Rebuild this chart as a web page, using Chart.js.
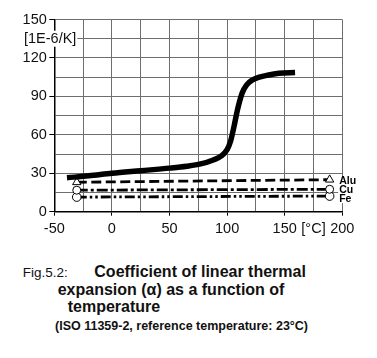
<!DOCTYPE html>
<html>
<head>
<meta charset="utf-8">
<script src="https://cdn.jsdelivr.net/npm/chart.js@4/dist/chart.umd.min.js"></script>
<style>
  html, body { margin:0; padding:0; background:#fff; }
  body { width:377px; height:358px; position:relative; overflow:hidden; font-family:'Liberation Sans', Arial, sans-serif; color:#111; }
  #wrap { position:absolute; left:0; top:0; width:377px; height:240px; }
  .cap { position:absolute; white-space:nowrap; line-height:1; }
  .b { font-weight:bold; font-size:16px; }
</style>
</head>
<body>
<div id="wrap"><canvas id="c" width="377" height="240"></canvas></div>
<div class="cap" style="left:22.7px;top:265.6px;font-size:13.5px;">Fig.5.2:</div>
<div class="cap b" style="left:94.3px;top:263.5px;">Coefficient of linear thermal</div>
<div class="cap b" style="left:57.7px;top:281.5px;">expansion (α) as a function of</div>
<div class="cap b" style="left:67.7px;top:299.2px;">temperature</div>
<div class="cap" style="left:55px;top:320.1px;font-size:12.5px;font-weight:bold;">(ISO 11359-2, reference temperature: 23°C)</div>
<script>
// ---- data ----
const mainX = [-39, -20, 0, 25, 50, 65, 77, 88, 95, 100, 103, 106, 109, 113, 117, 122, 128, 135, 145, 159];
const mainY = [26.5, 28, 30, 32, 34, 35.5, 37.3, 40.4, 43.5, 48.5, 55, 66.5, 79.5, 92.5, 99, 102.8, 105, 106.5, 108, 108.6];
const metalNames = ['Alu', 'Cu', 'Fe'];
const metalX = [-30.5, 189];
const aluY = [23, 25];
const cuY = [16.8, 17.5];
const feY = [11.4, 12.2];
const yTickValues = [0, 30, 60, 90, 120, 150];
const yTickLabels = ['0', '30', '60', '90', '120', '150'];
const yUnitLabel = '[1E-6/K]';
const yUnitValue = 135;
const xTickValues = [-50, 0, 50, 100, 150, 175, 200];
const xTickLabels = ['-50', '0', '50', '100', '150', '[°C]', '200'];

const FONT = "'Liberation Sans', Arial, sans-serif";
Chart.defaults.font.family = FONT;
Chart.defaults.font.size = 14.5;
Chart.defaults.color = '#111';

function pts(xs, ys) { return xs.map((x, i) => ({x: x, y: ys[i]})); }

const metalStyles = [
  {dash: [10, 4.5], pointStyle: 'triangle', radius: 4.8},
  {dash: [11, 3, 3, 3], pointStyle: 'circle', radius: 4},
  {dash: [10, 3, 2.5, 3, 2.5, 3], pointStyle: 'circle', radius: 4.3}
];
const metalSeries = [aluY, cuY, feY];

const datasets = [{
  data: pts(mainX, mainY),
  borderColor: '#000',
  borderWidth: 5.5,
  pointRadius: 0,
  cubicInterpolationMode: 'monotone',
  borderCapStyle: 'butt',
  fill: false
}];
metalSeries.forEach((ys, i) => {
  datasets.push({
    data: pts(metalX, ys),
    borderColor: '#000',
    borderWidth: 2.8,
    borderDash: metalStyles[i].dash,
    pointStyle: metalStyles[i].pointStyle,
    pointRadius: metalStyles[i].radius,
    pointBackgroundColor: '#fff',
    pointBorderColor: '#000',
    pointBorderWidth: 1,
    fill: false
  });
});

const labelsPlugin = {
  id: 'labelsPlugin',
  afterDraw(chart) {
    const ctx = chart.ctx;
    const xs = chart.scales.x, ys = chart.scales.y;
    ctx.save();
    ctx.font = '14.5px ' + FONT;
    ctx.textBaseline = 'middle';
    ctx.textAlign = 'left';
    const uy = ys.getPixelForValue(yUnitValue);
    const w = ctx.measureText(yUnitLabel).width;
    ctx.fillStyle = '#fff';
    ctx.fillRect(23, uy - 8, w + 2, 16);
    ctx.fillStyle = '#111';
    ctx.fillText(yUnitLabel, 24, uy + 0.5);
    ctx.font = 'bold 10.5px ' + FONT;
    const dy = [1, 0, 2.6];
    metalSeries.forEach((arr, i) => {
      const px = xs.getPixelForValue(metalX[metalX.length - 1]) + 9.5;
      const py = ys.getPixelForValue(arr[arr.length - 1]) + dy[i];
      const tw = ctx.measureText(metalNames[i]).width;
      ctx.fillStyle = '#fff';
      ctx.fillRect(px - 1, py - 4.5, tw + 2, 9);
      ctx.fillStyle = '#000';
      ctx.fillText(metalNames[i], px, py + 0.5);
    });
    ctx.restore();
  }
};

new Chart(document.getElementById('c'), {
  type: 'line',
  data: { datasets: datasets },
  plugins: [labelsPlugin],
  options: {
    responsive: false,
    devicePixelRatio: 1,
    animation: false,
    layout: { padding: { top: 19.5, right: 34.7, left: 0, bottom: 0 } },
    plugins: { legend: { display: false }, tooltip: { enabled: false } },
    scales: {
      x: {
        type: 'linear', min: -50, max: 200,
        afterFit(s) { s.height = 28.3; },
        afterBuildTicks(s) {
          const t = [];
          for (let v = -50; v <= 200; v += 25) t.push({value: v});
          s.ticks = t;
        },
        ticks: {
          autoSkip: false, maxRotation: 0, padding: 5,
          callback(v) { const i = xTickValues.indexOf(v); return i >= 0 ? xTickLabels[i] : ''; }
        },
        grid: {
          color: '#6e6e6e', lineWidth: 1, tickLength: 4,
          tickColor(ctx) { const v = ctx.tick && ctx.tick.value; return (xTickValues.indexOf(v) >= 0 && v !== 175) ? '#000' : 'rgba(0,0,0,0)'; }
        },
        border: { display: true, color: '#000', width: 1.5 }
      },
      y: {
        type: 'linear', min: 0, max: 150,
        afterFit(s) { s.width = 54.3; },
        afterBuildTicks(s) {
          const t = [];
          for (let v = 0; v <= 150; v += 15) t.push({value: v});
          s.ticks = t;
        },
        ticks: {
          autoSkip: false, padding: 2.5,
          callback(v) { const i = yTickValues.indexOf(v); return i >= 0 ? yTickLabels[i] : ''; }
        },
        grid: {
          color: '#6e6e6e', lineWidth: 1, tickLength: 5,
          tickColor(ctx) { const v = ctx.tick && ctx.tick.value; return yTickValues.indexOf(v) >= 0 ? '#000' : 'rgba(0,0,0,0)'; }
        },
        border: { display: true, color: '#000', width: 1.5 }
      }
    }
  }
});
</script>
</body>
</html>
